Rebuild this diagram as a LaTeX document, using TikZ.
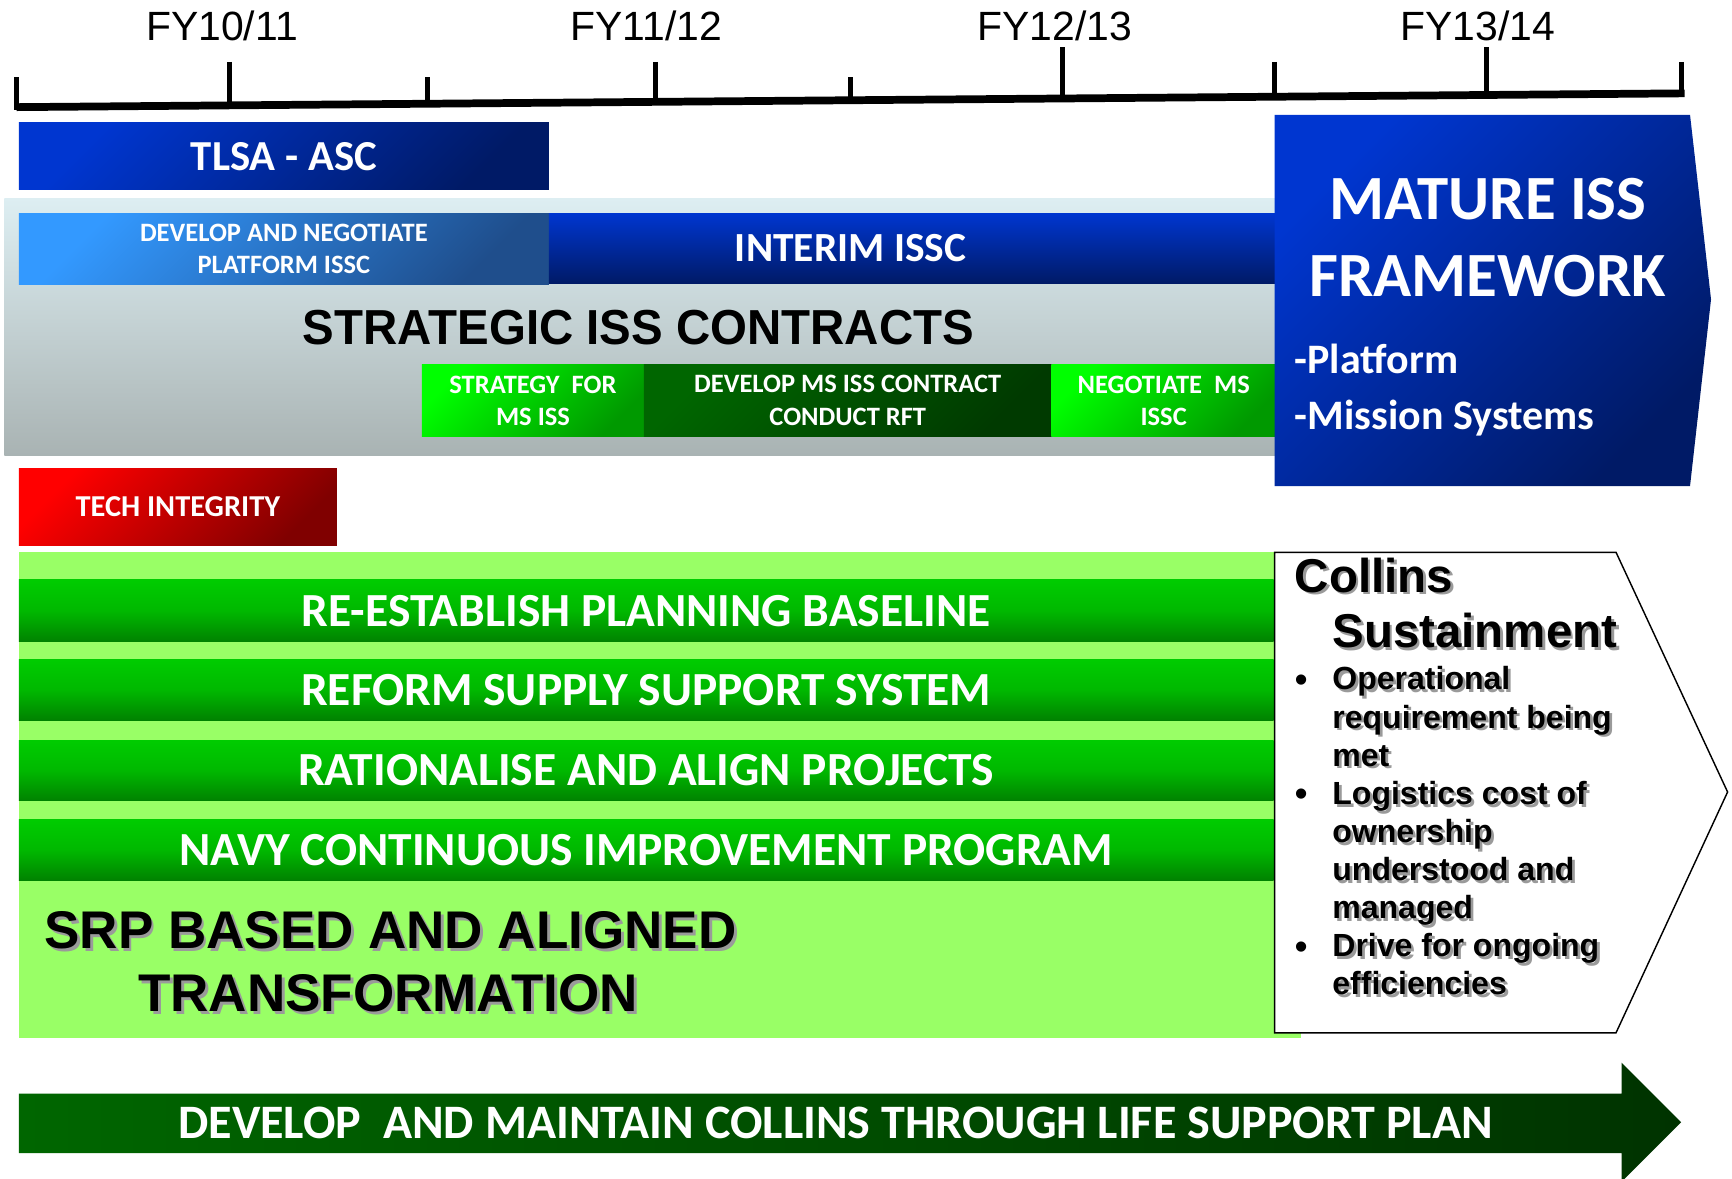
\documentclass[tikz,border=0pt]{standalone}
\usepackage{fontspec}
\setmainfont{Liberation Sans}
\newfontfamily\calfont{Carlito}
\newfontfamily\arialN{Liberation Sans}[FakeStretch=0.965]
\usetikzlibrary{calc}
\newcommand\fs[2]{\fontsize{#1}{#2}\selectfont}
\definecolor{blueA}{HTML}{0036D0}
\definecolor{blueB}{HTML}{001A66}
\definecolor{platA}{HTML}{3399FF}
\definecolor{platB}{HTML}{1F4E8C}
\definecolor{bandA}{HTML}{DDEEF2}
\definecolor{bandB}{HTML}{A9B3B3}
\definecolor{grnA}{HTML}{00FF00}
\definecolor{grnB}{HTML}{009900}
\definecolor{dgrnA}{HTML}{006600}
\definecolor{dgrnB}{HTML}{003A00}
\definecolor{redA}{HTML}{FF0000}
\definecolor{redB}{HTML}{800000}
\definecolor{lgrn}{HTML}{99FF66}
\definecolor{barA}{HTML}{00CC00}
\definecolor{barM}{HTML}{00B800}
\definecolor{barB}{HTML}{008200}
\definecolor{arrA}{HTML}{006600}
\definecolor{arrB}{HTML}{003300}
\definecolor{shadowgray}{HTML}{9A9A9A}
\newcommand\shd[1]{\leavevmode\rlap{\kern2.5pt\raisebox{-2.5pt}{\textcolor{shadowgray}{#1}}}#1}
\begin{document}
\begin{tikzpicture}[x=1pt,y=-1pt,
  box/.style={rectangle,inner sep=0pt,outer sep=0pt,anchor=north west,text=white,align=center},
  calb/.style={font=\calfont\bfseries\fs{#1}{#1}},
  axisline/.style={line width=7pt,black},
  tickmark/.style={line width=4.5pt,black},
  fylabel/.style={anchor=base,inner sep=0pt,font=\fs{37}{37}},
  shadtxt/.style={anchor=base west,inner sep=0pt,font=\bfseries\fs{#1}{#1}},
  greenbar/.style={box,minimum width=1136pt,top color=barA,bottom color=barB,middle color=barM,calb=43},
]
\useasboundingbox (0,0) rectangle (1568,1067);
\fill[white] (0,0) rectangle (1568,1067);

% timeline
\coordinate (tl0) at (15,97);
\coordinate (tl1) at (1525,84.5);
\draw[axisline] (tl0) -- (tl1);
\draw[tickmark] (15,70) -- (15,100);
\draw[tickmark] (208,56) -- (208,95);
\draw[tickmark] (387,70) -- (387,94);
\draw[tickmark] (593,56) -- (593,92);
\draw[tickmark] (770,70) -- (770,91);
\draw[tickmark] (962,43) -- (962,89);
\draw[tickmark] (1154,56) -- (1154,87);
\draw[tickmark] (1346,43) -- (1346,85);
\draw[tickmark] (1522,56) -- (1522,87);
\node[fylabel] (fy1) at (201,37) {FY10/11};
\node[fylabel] (fy2) at (585,37) {FY11/12};
\node[fylabel] (fy3) at (955,37) {FY12/13};
\node[fylabel] (fy4) at (1338,37) {FY13/14};

% TLSA
\node[box,minimum width=480pt,minimum height=61pt,top color=blueA,bottom color=blueB,shading angle=45,calb=38.7] (tlsa) at (17,111) {TLSA - ASC};

% strategic band
\node[box,minimum width=1151pt,minimum height=232pt,top color=bandA,bottom color=bandB] (band) at (4,180) {};
\node[box,minimum width=480pt,minimum height=65pt,top color=platA,bottom color=platB,shading angle=45,font=\calfont\bfseries\fs{24}{29}] (plat) at (17,193) {DEVELOP AND NEGOTIATE\\PLATFORM ISSC};
\node[box,minimum width=658pt,minimum height=64pt,top color=blueA,bottom color=blueB] (interim) at (497,193) {};
\node[inner sep=0pt,text=white,calb=37.5] (interimtxt) at (770,225) {INTERIM ISSC};
\node[anchor=base,inner sep=0pt,font=\arialN\bfseries\fs{44.5}{44.5}] (sic) at (578,312) {STRATEGIC ISS CONTRACTS};
\node[box,minimum width=201pt,minimum height=65pt,top color=grnA,bottom color=grnB,shading angle=45,font=\calfont\bfseries\fs{24}{29}] (strat) at (382,330) {STRATEGY\ \ FOR\\MS ISS};
\node[box,minimum width=369pt,minimum height=65pt,top color=dgrnA,bottom color=dgrnB,shading angle=45,font=\calfont\bfseries\fs{24}{29}] (devms) at (583,330) {DEVELOP MS ISS CONTRACT\\CONDUCT RFT};
\node[box,minimum width=203pt,minimum height=65pt,top color=grnA,bottom color=grnB,shading angle=45,font=\calfont\bfseries\fs{24}{29}] (nego) at (952,330) {NEGOTIATE\ \ MS\\ISSC};

% mature framework
\shade[top color=blueA,bottom color=blueB,shading angle=45] (1154,104) -- (1530,104) -- (1549,271) -- (1530,440) -- (1154,440) -- cycle;
\node[anchor=base,inner sep=0pt,text=white,calb=57] (mat1) at (1347,199) {MATURE ISS};
\node[anchor=base,inner sep=0pt,text=white,calb=57] (mat2) at (1347,268.7) {FRAMEWORK};
\node[anchor=base west,inner sep=0pt,text=white,calb=38] (plf) at (1172,338) {-Platform};
\node[anchor=base west,inner sep=0pt,text=white,calb=38] (msy) at (1172,389) {-Mission Systems};

% tech integrity
\node[box,minimum width=288pt,minimum height=70pt,top color=redA,bottom color=redB,shading angle=45,calb=27.5] (tech) at (17,424) {TECH INTEGRITY};

% transformation area
\fill[lgrn] (17,500) rectangle (1178,940);
\node[greenbar,minimum height=56pt] (bar1) at (17,525) {RE-ESTABLISH PLANNING BASELINE};
\node[greenbar,minimum height=55pt] (bar2) at (17,597) {REFORM SUPPLY SUPPORT SYSTEM};
\node[greenbar,minimum height=55pt] (bar3) at (17,670) {RATIONALISE AND ALIGN PROJECTS};
\node[greenbar,minimum height=55pt] (bar4) at (17,742) {NAVY CONTINUOUS IMPROVEMENT PROGRAM};
\node[shadtxt=48] (srp1) at (40,859) {\shd{SRP BASED AND ALIGNED}};
\node[shadtxt=48] (srp2) at (125,916) {\shd{TRANSFORMATION}};

% collins sustainment
\draw[line width=1.3pt,fill=white] (1154,500) -- (1463,500) -- (1564,717) -- (1463,935) -- (1154,935) -- cycle;
\node[shadtxt=43] (col1) at (1172,536) {\shd{Collins}};
\node[shadtxt=43] (col2) at (1206,586) {\shd{Sustainment}};
\foreach \t [count=\i from 0] in {Operational,requirement being,met,Logistics cost of,ownership,understood and,managed,Drive for ongoing,efficiencies}
  \node[shadtxt=29] (cb\i) at (1206,{624.6+34.5*\i}) {\shd{\t}};
\foreach \i in {0,3,7}
  \node[anchor=base,inner sep=0pt,font=\fs{34}{34}] (bul\i) at (1178,{627+34.5*\i}) {•};

% bottom arrow
\shade[left color=arrA,right color=arrB] (17,990) -- (1468,990) -- (1468,962) -- (1522,1016) -- (1468,1070) -- (1468,1044) -- (17,1044) -- cycle;
\node[inner sep=0pt,text=white,calb=43.5] (tlsp) at (756.5,1017) {DEVELOP\ \ AND MAINTAIN COLLINS THROUGH LIFE SUPPORT PLAN};
\end{tikzpicture}
\end{document}
